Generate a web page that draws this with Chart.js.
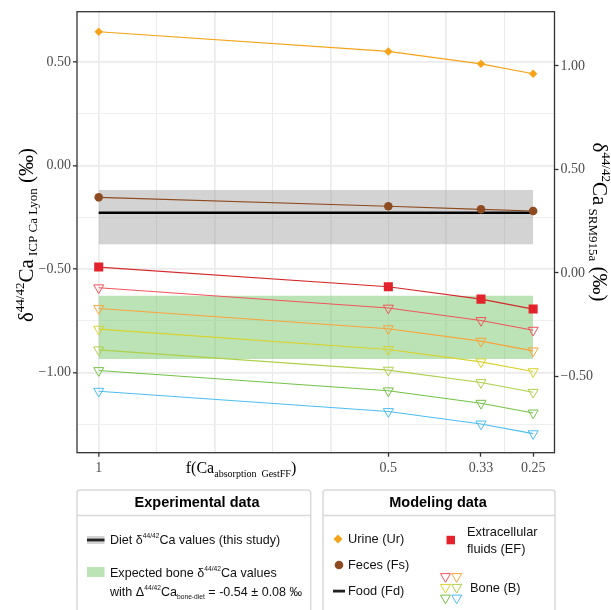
<!DOCTYPE html>
<html><head><meta charset="utf-8">
<script src="https://cdn.jsdelivr.net/npm/chart.js@4.4.1/dist/chart.umd.min.js"></script>
<style>html,body{margin:0;padding:0;background:#fff;}canvas{display:block;}</style>
</head><body>
<canvas id="c" width="611" height="610"></canvas>
<script>
// ---- data ----
const fValues = [1, 0.5, 0.34, 0.25];
const fTickLabels = ['1', '0.5', '0.33', '0.25'];
const xGridValues = [1, 0.9, 0.8, 0.7, 0.6, 0.5, 0.4, 0.3];
const xGridMajor = [1, 0.8, 0.6, 0.4];
const urine = [0.647, 0.552, 0.492, 0.444];
const feces = [-0.153, -0.196, -0.211, -0.219];
const foodX = [1, 0.25];
const food = [-0.227, -0.227];
const extracellular = [-0.490, -0.585, -0.645, -0.693];
const boneRed = [-0.590, -0.688, -0.748, -0.795];
const boneOrange = [-0.690, -0.788, -0.848, -0.895];
const boneYellow = [-0.790, -0.888, -0.948, -0.995];
const boneLime = [-0.890, -0.988, -1.048, -1.095];
const boneGreen = [-0.990, -1.088, -1.148, -1.195];
const boneBlue = [-1.090, -1.188, -1.248, -1.295];
const dietBandX = [1, 0.25];
const dietBand = [-0.380, -0.118];
const boneBand = [-0.934, -0.629];
const leftMajorTicks = [0.5, 0, -0.5, -1];
const leftMinorTicks = [0.25, -0.25, -0.75, -1.25];
const rightTicks = [1, 0.5, 0, -0.5];
const srmOffset = 0.518;

// ---- styles ----
const C = {
  urine: '#F6A318', feces: '#8E4A20', food: '#000000', ef: '#E3232B', efLine: '#D42A2A',
  bones: ['#F2545B', '#F9A33A', '#D9D22E', '#AED04A', '#74C247', '#4DBDF2'],
  diet: 'rgba(150,150,150,0.42)', boneBand: 'rgba(120,200,110,0.5)'
};
const serif = "'Liberation Serif','Times New Roman',serif";
const sans = "'Liberation Sans',Arial,sans-serif";
const Y_MIN = -1.387, Y_MAX = 0.744;

const pts = (xs, ys) => xs.map((x, i) => ({x: x, y: ys[i]}));
const near = (a, b) => Math.abs(a - b) < 1e-6;
const inArr = (arr, v) => arr.some(a => near(a, v));
const fmt = v => (near(v, 0) ? '0.00' : v.toFixed(2)).replace('-', '\u2212');

const boneSeries = [boneRed, boneOrange, boneYellow, boneLime, boneGreen, boneBlue];
const datasets = [
  {label: 'Urine', data: pts(fValues, urine), borderColor: C.urine, backgroundColor: C.urine,
   borderWidth: 1.2, pointStyle: 'rectRot', pointRadius: 4.2, pointBorderWidth: 0, order: 1},
  {label: 'Feces', data: pts(fValues, feces), borderColor: C.feces, backgroundColor: C.feces,
   borderWidth: 1.2, pointStyle: 'circle', pointRadius: 4.3, pointBorderWidth: 0, order: 1},
  {label: 'Extracellular', data: pts(fValues, extracellular), borderColor: C.efLine, backgroundColor: C.ef,
   pointBackgroundColor: C.ef, pointBorderColor: C.ef,
   borderWidth: 1.2, pointStyle: 'rect', pointRadius: 6.4, pointBorderWidth: 0, order: 1}
];
boneSeries.forEach((s, i) => datasets.push({
  label: 'Bone' + (i + 1), data: pts(fValues, s), borderColor: C.bones[i], backgroundColor: 'rgba(0,0,0,0)',
  pointBorderColor: C.bones[i], pointBackgroundColor: 'rgba(0,0,0,0)',
  borderWidth: 1.1, pointStyle: 'triangle', pointRotation: 180, pointRadius: 5.8, pointBorderWidth: 1, order: 2
}));
datasets.push({label: 'Food', data: pts(foodX, food), borderColor: C.food, borderWidth: 2.5, pointRadius: 0, order: 3});
datasets.push({label: 'DietHi', data: pts(dietBandX, [dietBand[1], dietBand[1]]), borderWidth: 0, borderColor: 'rgba(0,0,0,0)',
  pointRadius: 0, fill: '+1', backgroundColor: C.diet, order: 10});
datasets.push({label: 'DietLo', data: pts(dietBandX, [dietBand[0], dietBand[0]]), borderWidth: 0, borderColor: 'rgba(0,0,0,0)',
  pointRadius: 0, fill: false, order: 10});
datasets.push({label: 'BoneHi', data: pts(dietBandX, [boneBand[1], boneBand[1]]), borderWidth: 0, borderColor: 'rgba(0,0,0,0)',
  pointRadius: 0, fill: '+1', backgroundColor: C.boneBand, order: 10});
datasets.push({label: 'BoneLo', data: pts(dietBandX, [boneBand[0], boneBand[0]]), borderWidth: 0, borderColor: 'rgba(0,0,0,0)',
  pointRadius: 0, fill: false, order: 10});

const xAllTicks = Array.from(new Set(xGridValues.concat(fValues))).sort((a, b) => b - a);
const yAllTicks = leftMajorTicks.concat(leftMinorTicks).sort((a, b) => b - a);

// ---- rich text helpers ----
function richWidth(ctx, segs) { let w = 0; segs.forEach(s => { ctx.font = s.font; w += ctx.measureText(s.t).width; }); return w; }
function drawRich(ctx, segs, x, y, sx) {
  sx = sx || 1;
  ctx.save(); ctx.translate(x, y); ctx.scale(sx, 1);
  let cx = 0;
  segs.forEach(s => { ctx.font = s.font; ctx.fillText(s.t, cx, (s.dy || 0)); cx += ctx.measureText(s.t).width; });
  ctx.restore();
}
const f = (size, fam, w) => (w ? w + ' ' : '') + size + 'px ' + fam;

const decor = {
  id: 'decor',
  afterDatasetsDraw(chart) {
    const {ctx, chartArea: a} = chart;
    ctx.save();
    ctx.strokeStyle = '#333333'; ctx.lineWidth = 1.3;
    ctx.strokeRect(a.left, a.top, a.right - a.left, a.bottom - a.top);
    ctx.restore();
  },
  afterDraw(chart) {
    const {ctx} = chart;
    ctx.save();
    ctx.fillStyle = '#000'; ctx.textBaseline = 'alphabetic';
    // left title
    const big = 21, small = 13;
    const leftSegs = [
      {t: '\u03B4', font: f(big, serif)}, {t: '44/42', font: f(small, serif), dy: -9},
      {t: 'Ca', font: f(big, serif)}, {t: ' ICP Ca Lyon', font: f(small, serif), dy: 4},
      {t: ' (\u2030)', font: f(big, serif)}];
    ctx.save(); ctx.translate(33, 235); ctx.rotate(-Math.PI / 2);
    drawRich(ctx, leftSegs, -richWidth(ctx, leftSegs) / 2, 0); ctx.restore();
    const rightSegs = [
      {t: '\u03B4', font: f(big, serif)}, {t: '44/42', font: f(small, serif), dy: -9},
      {t: 'Ca', font: f(big, serif)}, {t: ' SRM915a', font: f(small, serif), dy: 4},
      {t: ' (\u2030)', font: f(big, serif)}];
    ctx.save(); ctx.translate(593, 222); ctx.rotate(Math.PI / 2);
    drawRich(ctx, rightSegs, -richWidth(ctx, rightSegs) / 2, 0); ctx.restore();
    // x title
    const xSegs = [{t: 'f(Ca', font: f(16, serif)}, {t: 'absorption  GestFF', font: f(10, serif), dy: 4},
      {t: ')', font: f(16, serif)}];
    drawRich(ctx, xSegs, 241 - richWidth(ctx, xSegs) / 2, 473);

    // ---- legends ----
    function box(x, y, w, h, title, cx) {
      ctx.strokeStyle = '#D9D9D9'; ctx.lineWidth = 1.5;
      ctx.beginPath(); ctx.roundRect(x, y, w, h, 3); ctx.stroke();
      ctx.beginPath(); ctx.moveTo(x, 515.5); ctx.lineTo(x + w, 515.5); ctx.stroke();
      ctx.fillStyle = '#000'; ctx.font = f(14.5, sans, 'bold'); ctx.textAlign = 'center'; ctx.textBaseline = 'middle';
      ctx.fillText(title, cx, 503); ctx.textAlign = 'left';
    }
    box(77, 490, 233.7, 140, 'Experimental data', 197);
    box(323, 490, 232, 140, 'Modeling data', 438);

    const T = 13.5, S = 7.2, SX = 0.93;
    ctx.fillStyle = '#111'; ctx.textBaseline = 'middle';
    // diet item
    ctx.fillStyle = C.diet; ctx.fillRect(87, 536, 17.5, 8);
    ctx.fillStyle = '#222'; ctx.fillRect(87, 538.6, 17.5, 2.8);
    ctx.fillStyle = '#111';
    drawRich(ctx, [{t: 'Diet \u03B4', font: f(T, sans)}, {t: '44/42', font: f(S, sans), dy: -4},
      {t: 'Ca values (this study)', font: f(T, sans)}], 110, 540.5, SX);
    // bone band item
    ctx.fillStyle = C.boneBand; ctx.fillRect(87, 567, 17.5, 10);
    ctx.fillStyle = '#111';
    drawRich(ctx, [{t: 'Expected bone \u03B4', font: f(T, sans)}, {t: '44/42', font: f(S, sans), dy: -4},
      {t: 'Ca values', font: f(T, sans)}], 110, 573, SX);
    drawRich(ctx, [{t: 'with \u0394', font: f(T, sans)}, {t: '44/42', font: f(S, sans), dy: -4},
      {t: 'Ca', font: f(T, sans)}, {t: 'bone-diet', font: f(S, sans), dy: 5},
      {t: ' = -0.54 \u00B1 0.08 \u2030', font: f(T, sans)}], 110, 592, SX);

    // modeling items
    ctx.fillStyle = C.urine; ctx.beginPath();
    ctx.moveTo(338, 534.5); ctx.lineTo(342.5, 539); ctx.lineTo(338, 543.5); ctx.lineTo(333.5, 539); ctx.closePath(); ctx.fill();
    ctx.fillStyle = C.feces; ctx.beginPath(); ctx.arc(339, 565, 4.3, 0, Math.PI * 2); ctx.fill();
    ctx.fillStyle = '#222'; ctx.fillRect(333, 589.7, 12, 2.8);
    ctx.fillStyle = C.ef; ctx.fillRect(446.5, 535.8, 8.5, 8.5);
    ctx.fillStyle = '#111';
    const it = [{font: f(13.5, sans)}];
    const txt = (s, x, y) => drawRich(ctx, [{t: s, font: f(13.5, sans)}], x, y, 0.95);
    txt('Urine (Ur)', 348, 539.5);
    txt('Feces (Fs)', 348, 565.5);
    txt('Food (Fd)', 348, 591.5);
    txt('Extracellular', 467, 532.5);
    txt('fluids (EF)', 467, 549);
    txt('Bone (B)', 470, 588);
    const tri = [[445.5, 576.5], [456.7, 576.5], [445.5, 587.3], [456.7, 587.3], [445.5, 598], [456.7, 598]];
    tri.forEach((p, i) => {
      ctx.strokeStyle = C.bones[i]; ctx.lineWidth = 1;
      const r = 5.8, hw = r * Math.sqrt(3) / 2;
      ctx.beginPath(); ctx.moveTo(p[0] - hw, p[1] - r / 2); ctx.lineTo(p[0] + hw, p[1] - r / 2);
      ctx.lineTo(p[0], p[1] + r); ctx.closePath(); ctx.stroke();
    });
    ctx.restore();
  }
};

new Chart(document.getElementById('c'), {
  type: 'line',
  data: {datasets: datasets},
  options: {
    responsive: false, animation: false, devicePixelRatio: 1,
    layout: {padding: {top: 11.7, left: 0, right: 0, bottom: 0}},
    plugins: {legend: {display: false}, tooltip: {enabled: false}, filler: {propagate: false}},
    elements: {line: {tension: 0}},
    scales: {
      x: {
        type: 'linear', reverse: true, min: 0.2131, max: 1.0375,
        afterBuildTicks: s => { s.ticks = xAllTicks.map(v => ({value: v})); },
        afterFit: s => { s.height = 157.3; },
        border: {display: false},
        grid: {
          color: c => inArr(xGridValues, c.tick.value) ? '#EBEBEB' : 'rgba(0,0,0,0)',
          lineWidth: c => inArr(xGridMajor, c.tick.value) ? 1.7 : 1,
          tickColor: c => inArr(fValues, c.tick.value) ? '#333333' : 'rgba(0,0,0,0)',
          tickWidth: 1.3, tickLength: 4, drawTicks: true
        },
        ticks: {
          autoSkip: false, maxRotation: 0, padding: 3, color: '#4D4D4D',
          font: {family: serif, size: 14},
          callback: v => { const i = fValues.findIndex(a => near(a, v)); return i >= 0 ? fTickLabels[i] : ''; }
        }
      },
      y: {
        type: 'linear', position: 'left', min: Y_MIN, max: Y_MAX,
        afterBuildTicks: s => { s.ticks = yAllTicks.map(v => ({value: v})); },
        afterFit: s => { s.width = 77; },
        border: {display: false},
        grid: {
          color: c => inArr(leftMajorTicks, c.tick.value) ? '#EBEBEB' : '#EFEFEF',
          lineWidth: c => inArr(leftMajorTicks, c.tick.value) ? 1.7 : 1,
          tickColor: c => inArr(leftMajorTicks, c.tick.value) ? '#333333' : 'rgba(0,0,0,0)',
          tickWidth: 1.3, tickLength: 4
        },
        ticks: {
          padding: 2, color: '#4D4D4D', font: {family: serif, size: 14},
          callback: v => inArr(leftMajorTicks, v) ? fmt(v) : ''
        }
      },
      y2: {
        type: 'linear', position: 'right', min: Y_MIN + srmOffset, max: Y_MAX + srmOffset,
        afterBuildTicks: s => { s.ticks = rightTicks.map(v => ({value: v})); },
        afterFit: s => { s.width = 56.5; },
        border: {display: false},
        grid: {drawOnChartArea: false, tickColor: '#333333', tickWidth: 1.3, tickLength: 4},
        ticks: {padding: 2, color: '#4D4D4D', font: {family: serif, size: 14}, callback: v => fmt(v)}
      }
    }
  },
  plugins: [decor]
});
</script>
</body></html>
